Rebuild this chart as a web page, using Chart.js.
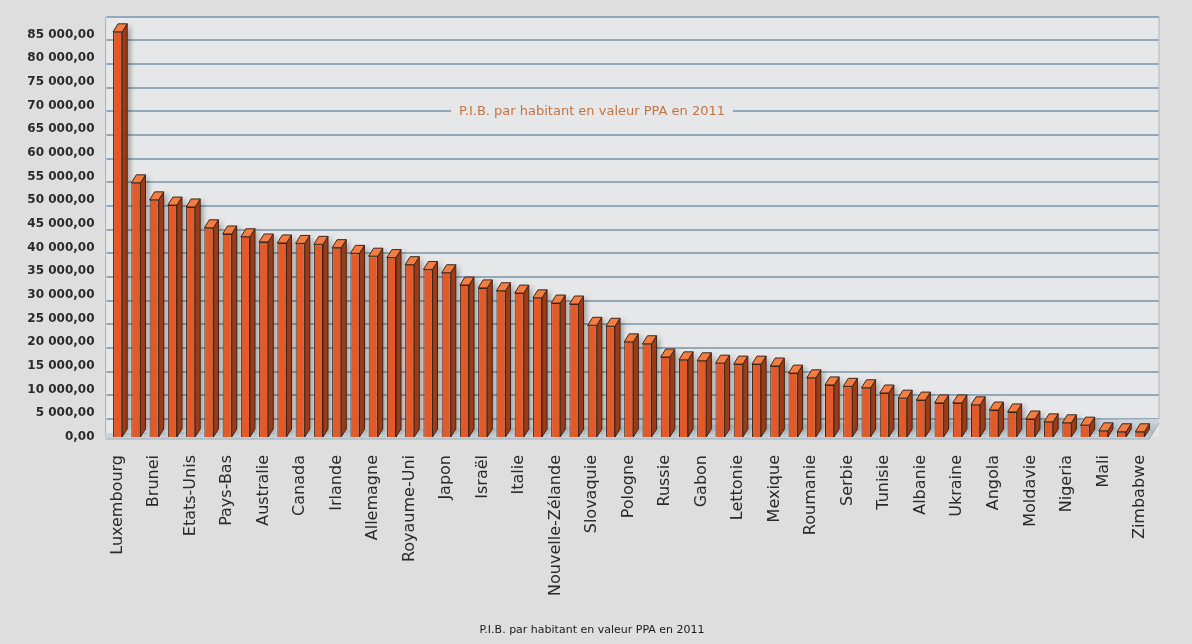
<!DOCTYPE html>
<html>
<head>
<meta charset="utf-8">
<title>P.I.B. par habitant en valeur PPA en 2011</title>
<script src="https://cdn.jsdelivr.net/npm/chart.js@4/dist/chart.umd.min.js"></script>
<style>
    html, body { margin: 0; padding: 0; background: #dedede; }
</style>
</head>
<body>
<canvas id="chart" width="1192" height="644"></canvas>
<script>
// pays (un nom sur deux est affiché sur l'axe)
const pays = [
    'Luxembourg', '', 'Brunei', '', 'Etats-Unis', '', 'Pays-Bas', '', 'Australie', '',
    'Canada', '', 'Irlande', '', 'Allemagne', '', 'Royaume-Uni', '', 'Japon', '',
    'Israël', '', 'Italie', '', 'Nouvelle-Zélande', '', 'Slovaquie', '', 'Pologne', '',
    'Russie', '', 'Gabon', '', 'Lettonie', '', 'Mexique', '', 'Roumanie', '',
    'Serbie', '', 'Tunisie', '', 'Albanie', '', 'Ukraine', '', 'Angola', '',
    'Moldavie', '', 'Nigeria', '', 'Mali', '', 'Zimbabwe'
];

// P.I.B. par habitant (PPA)
const pib = [
    85600, 53700, 50100, 49000, 48600, 44200, 42900, 42300, 41200, 41000,
    40900, 40700, 40000, 38800, 38200, 37900, 36400, 35400, 34700, 32100,
    31500, 30900, 30400, 29400, 28300, 28100, 23600, 23400, 20100, 19700,
    16900, 16300, 16100, 15600, 15400, 15400, 15000, 13500, 12500, 11000,
    10700, 10400, 9300, 8200, 7800, 7200, 7200, 6800, 5700, 5300,
    3800, 3200, 3000, 2500, 1300, 1100, 1100
];

const graduations = [0, 5000, 10000, 15000, 20000, 25000, 30000, 35000, 40000,
    45000, 50000, 55000, 60000, 65000, 70000, 75000, 80000, 85000];

const titre = 'P.I.B. par habitant en valeur PPA en 2011';

// effet 3D
const fond = '#dedede';
const mur = '#e6e7e9';
const grille = '#93a9b9';
const murDx = 10, murDy = -18;
const barDx = 5, barDy = -8;

function formatNombre(v) {
    return String(v).replace(/\B(?=(\d{3})+(?!\d))/g, ' ') + ',00';
}

const decor3d = {
    id: 'decor3d',
    beforeDraw(chart) {
        const ctx = chart.ctx;
        const a = chart.chartArea;
        const y = chart.scales.y;
        ctx.save();
        ctx.fillStyle = fond;
        ctx.fillRect(0, 0, chart.width, chart.height);

        const top = y.getPixelForValue(85000) + murDy;
        const bas = a.bottom;
        // mur du fond
        ctx.fillStyle = mur;
        ctx.fillRect(a.left - 2, top, a.right + murDx - a.left + 2, bas - top);

        // lignes de graduation sur le mur
        ctx.strokeStyle = grille;
        ctx.lineWidth = 2;
        graduations.forEach(v => {
            const gy = Math.round(y.getPixelForValue(v) + murDy);
            ctx.beginPath();
            ctx.moveTo(a.left - 2, gy);
            ctx.lineTo(a.right + murDx, gy);
            ctx.stroke();
        });

        // parois
        ctx.strokeStyle = '#a9b8c3';
        ctx.lineWidth = 1;
        ctx.beginPath();
        ctx.moveTo(a.left - 3, top);
        ctx.lineTo(a.left - 3, bas);
        ctx.stroke();
        ctx.beginPath();
        ctx.moveTo(a.right + murDx, top);
        ctx.lineTo(a.right + murDx, bas + murDy);
        ctx.stroke();

        // sol
        ctx.fillStyle = '#ccd4da';
        ctx.beginPath();
        ctx.moveTo(a.left - 3, bas + 2);
        ctx.lineTo(a.right, bas + 2);
        ctx.lineTo(a.right + murDx, bas + murDy + 4);
        ctx.lineTo(a.right + murDx, bas + murDy);
        ctx.lineTo(a.left - 3, bas - 4);
        ctx.closePath();
        ctx.fill();
        ctx.strokeStyle = '#9aabb8';
        ctx.beginPath();
        ctx.moveTo(a.left - 3, bas + 2);
        ctx.lineTo(a.right, bas + 2);
        ctx.lineTo(a.right + murDx, bas + murDy + 4);
        ctx.stroke();
        ctx.restore();
    },
    beforeDatasetsDraw(chart) {
        const ctx = chart.ctx;
        const meta = chart.getDatasetMeta(0);
        ctx.save();
        ctx.lineWidth = 1;
        ctx.strokeStyle = '#3b2518';
        meta.data.forEach(bar => {
            const p = bar.getProps(['x', 'y', 'base', 'width'], true);
            const g = p.x - p.width / 2, d = p.x + p.width / 2;
            // face latérale avec ombre
            ctx.shadowColor = 'rgba(0,0,0,0.35)';
            ctx.shadowBlur = 5;
            ctx.shadowOffsetX = 3;
            ctx.fillStyle = '#9e3b17';
            ctx.beginPath();
            ctx.moveTo(d, p.y);
            ctx.lineTo(d + barDx, p.y + barDy);
            ctx.lineTo(d + barDx, p.base + barDy);
            ctx.lineTo(d, p.base);
            ctx.closePath();
            ctx.fill();
            ctx.shadowColor = 'transparent';
            ctx.stroke();
            // dessus
            ctx.fillStyle = '#f47d42';
            ctx.beginPath();
            ctx.moveTo(g, p.y);
            ctx.lineTo(g + barDx, p.y + barDy);
            ctx.lineTo(d + barDx, p.y + barDy);
            ctx.lineTo(d, p.y);
            ctx.closePath();
            ctx.fill();
            ctx.stroke();
        });
        ctx.restore();
    },
    afterDraw(chart) {
        const ctx = chart.ctx;
        const y = chart.scales.y;
        ctx.save();
        // titre dans le graphique, posé sur une ligne de graduation
        ctx.font = '13px "DejaVu Sans"';
        const w = ctx.measureText(titre).width;
        const cx = chart.width / 2 - 4;
        const gy = Math.round(y.getPixelForValue(65000) + murDy);
        ctx.fillStyle = mur;
        ctx.fillRect(cx - w / 2 - 8, gy - 3, w + 16, 6);
        ctx.fillStyle = '#c27445';
        ctx.textAlign = 'center';
        ctx.textBaseline = 'middle';
        ctx.fillText(titre, cx, gy + 1);
        // titre de l'axe
        ctx.font = '11px "DejaVu Sans"';
        ctx.fillStyle = '#1a1a1a';
        ctx.fillText(titre, cx, 630);
        ctx.restore();
    }
};

const ctx = document.getElementById('chart').getContext('2d');
const chart = new Chart(ctx, {
    type: 'bar',
    data: {
        labels: pays,
        datasets: [{
            label: titre,
            data: pib,
            backgroundColor: '#e2592a',
            borderColor: '#3b2518',
            borderWidth: 1,
            barPercentage: 0.5,
            categoryPercentage: 1,
        }],
    },
    options: {
        responsive: false,
        animation: false,
        layout: { padding: { top: 11, right: 43, bottom: 0, left: 0 } },
        plugins: {
            legend: { display: false },
            tooltip: { enabled: false },
        },
        scales: {
            x: {
                grid: { display: false, drawTicks: false },
                border: { display: false },
                ticks: {
                    autoSkip: false,
                    minRotation: 90,
                    maxRotation: 90,
                    padding: 18,
                    color: '#2a2a2a',
                    font: { family: 'DejaVu Sans', size: 16 },
                },
                afterFit: s => { s.height = 207; },
            },
            y: {
                min: 0,
                max: 90000,
                grid: { display: false, drawTicks: false },
                border: { display: false },
                afterBuildTicks: s => { s.ticks = graduations.map(v => ({ value: v })); },
                ticks: {
                    padding: 14,
                    color: '#2a2a2a',
                    font: { family: 'DejaVu Sans', size: 12, weight: 'bold' },
                    callback: v => formatNombre(v),
                },
                afterFit: s => {
                    s.width = 108.5;
                    s.paddingTop = 0;
                    s.paddingBottom = 0;
                },
            },
        },
    },
    plugins: [decor3d],
});
</script>
</body>
</html>
